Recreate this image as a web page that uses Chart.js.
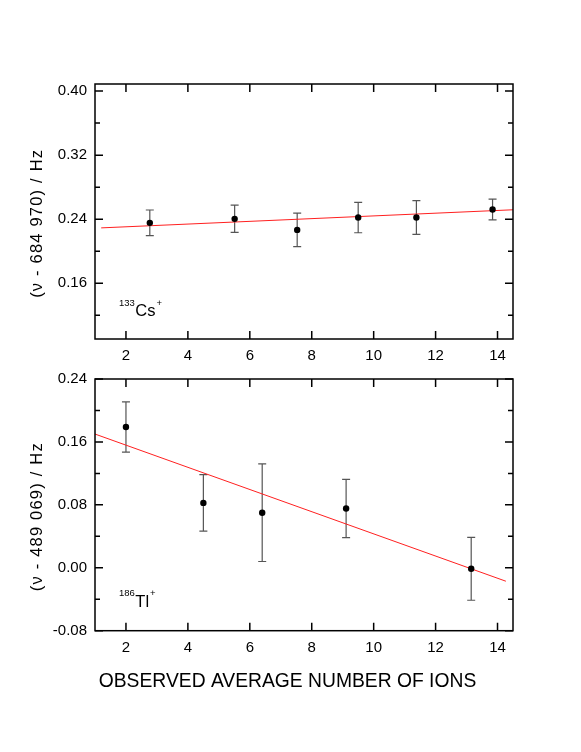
<!DOCTYPE html>
<html>
<head>
<meta charset="utf-8">
<script src="https://cdn.jsdelivr.net/npm/chart.js@4"></script>
<style>
body { margin: 0; background: #fff; }
canvas { position: absolute; left: 0; }
#cs { top: 0; }
#tl { top: 362px; }
</style>
</head>
<body>
<canvas id="cs" width="581" height="362"></canvas>
<canvas id="tl" width="581" height="390"></canvas>
<script>
// Data

const xTicks = [2, 4, 6, 8, 10, 12, 14];

// 133Cs+
const csIons = [2.77, 5.51, 7.53, 9.50, 11.38, 13.84];
const csFreq = [0.2355, 0.2405, 0.2267, 0.2421, 0.2421, 0.2521];
const csErr = [0.016, 0.017, 0.021, 0.019, 0.021, 0.013];
const csFitX = [1.2, 14.5];
const csFitY = [0.2292, 0.2518];
const csTicks = [0.12, 0.16, 0.20, 0.24, 0.28, 0.32, 0.36, 0.40];

// 186Tl+
const tlIons = [2.0, 4.5, 6.4, 9.11, 13.15];
const tlFreq = [0.179, 0.0825, 0.070, 0.0753, -0.0013];
const tlErr = [0.032, 0.036, 0.062, 0.037, 0.040];
const tlFitX = [1.0, 14.27];
const tlFitY = [0.170, -0.0171];
const tlTicks = [-0.08, -0.04, 0.00, 0.04, 0.08, 0.12, 0.16, 0.20, 0.24];

const FONT = '"Liberation Sans", Arial, sans-serif';

function isMajor(v) {
	return Math.abs(Math.round(v * 100)) % 8 === 0;
}

// Frame, inward ticks, error bars and texts

const frame = {
	id: 'frame',
	beforeDatasetsDraw(chart, args, opts) {
		const ctx = chart.ctx;
		const y = chart.scales.y;
		const meta = chart.getDatasetMeta(0);
		const vals = chart.data.datasets[0].data;
		ctx.save();
		ctx.strokeStyle = '#555';
		ctx.lineWidth = 1.2;
		meta.data.forEach(function(pt, i) {
			const top = y.getPixelForValue(vals[i].y + opts.err[i]);
			const bot = y.getPixelForValue(vals[i].y - opts.err[i]);
			ctx.beginPath();
			ctx.moveTo(pt.x, top); ctx.lineTo(pt.x, bot);
			ctx.moveTo(pt.x - 4, top); ctx.lineTo(pt.x + 4, top);
			ctx.moveTo(pt.x - 4, bot); ctx.lineTo(pt.x + 4, bot);
			ctx.stroke();
		});
		ctx.restore();
	},
	afterDraw(chart, args, opts) {
		const ctx = chart.ctx;
		const a = chart.chartArea;
		const x = chart.scales.x;
		const y = chart.scales.y;
		ctx.save();
		ctx.strokeStyle = '#000';
		ctx.lineWidth = 1.5;
		ctx.strokeRect(a.left, a.top, a.right - a.left, a.bottom - a.top);
		ctx.beginPath();
		x.ticks.forEach(function(t) {
			const px = x.getPixelForValue(t.value);
			ctx.moveTo(px, a.bottom); ctx.lineTo(px, a.bottom - 8);
			ctx.moveTo(px, a.top); ctx.lineTo(px, a.top + 8);
		});
		y.ticks.forEach(function(t) {
			const py = y.getPixelForValue(t.value);
			const len = isMajor(t.value) ? 8 : 5;
			ctx.moveTo(a.left, py); ctx.lineTo(a.left + len, py);
			ctx.moveTo(a.right, py); ctx.lineTo(a.right - len, py);
		});
		ctx.stroke();

		ctx.fillStyle = '#000';
		// y title
		ctx.save();
		ctx.translate(37.5, opts.yTitleY);
		ctx.rotate(-Math.PI / 2);
		ctx.font = '16.5px ' + FONT;
		ctx.letterSpacing = '1.2px';
		ctx.textAlign = 'center';
		ctx.textBaseline = 'middle';
		ctx.fillText(opts.yTitle, 0, 0);
		ctx.restore();

		// x title
		if (opts.xTitle) {
			ctx.font = '19.3px ' + FONT;
			ctx.textAlign = 'center';
			ctx.textBaseline = 'middle';
			ctx.fillText(opts.xTitle, 287.5, opts.xTitleY);
		}

		// ion label
		let px = opts.ionX;
		ctx.textAlign = 'left';
		ctx.textBaseline = 'alphabetic';
		ctx.font = '9.5px ' + FONT;
		ctx.fillText(opts.ion[0], px, opts.ionY - 10.5);
		px += ctx.measureText(opts.ion[0]).width + 0.5;
		ctx.font = '16.5px ' + FONT;
		ctx.fillText(opts.ion[1], px, opts.ionY);
		px += ctx.measureText(opts.ion[1]).width + 1;
		ctx.font = '9.5px ' + FONT;
		ctx.fillText(opts.ion[2], px, opts.ionY - 10.5);
		ctx.restore();
	}
};

function makePanel(id, cfg) {
	const points = cfg.ions.map(function(v, i) { return {x: v, y: cfg.freq[i]}; });
	const fit = cfg.fitX.map(function(v, i) { return {x: v, y: cfg.fitY[i]}; });

	return new Chart(id, {
		type: 'scatter',
		plugins: [frame],
		data: {
			datasets: [{
				data: points,
				backgroundColor: '#000',
				borderWidth: 0,
				pointRadius: 3.2
			},
			{
				data: fit,
				showLine: true,
				borderColor: '#ff2020',
				borderWidth: 1,
				pointRadius: 0
			}]
		},
		options: {
			responsive: false,
			animation: false,
			devicePixelRatio: 1,
			layout: {padding: {left: 0, top: cfg.top, right: 68, bottom: 0}},
			plugins: {
				legend: {display: false},
				tooltip: {enabled: false},
				frame: cfg.frame
			},
			scales: {
				x: {
					type: 'linear',
					min: 1,
					max: 14.5,
					grid: {display: false, drawTicks: false},
					border: {display: false},
					afterBuildTicks: function(s) { s.ticks = xTicks.map(function(v) { return {value: v}; }); },
					afterFit: function(s) { s.height = cfg.xHeight; },
					ticks: {
						autoSkip: false,
						maxRotation: 0,
						padding: 8,
						color: '#000',
						font: {family: FONT, size: 15}
					}
				},
				y: {
					min: cfg.yMin,
					max: cfg.yMax,
					grid: {display: false, drawTicks: false},
					border: {display: false},
					afterBuildTicks: function(s) { s.ticks = cfg.yTicks.map(function(v) { return {value: v}; }); },
					afterFit: function(s) { s.width = 95; },
					ticks: {
						autoSkip: false,
						padding: 8,
						color: '#000',
						font: {family: FONT, size: 15},
						callback: function(v) { return isMajor(v) ? v.toFixed(2) : ''; }
					}
				}
			}
		}
	});
}

makePanel('cs', {
	ions: csIons, freq: csFreq, fitX: csFitX, fitY: csFitY,
	yTicks: csTicks, yMin: 0.0905, yMax: 0.4088,
	top: 84, xHeight: 23,
	frame: {
		err: csErr,
		yTitle: '(\u03bd - 684 970) / Hz', yTitleY: 223.3,
		ion: ['133', 'Cs', '+'], ionX: 119, ionY: 316
	}
});

makePanel('tl', {
	ions: tlIons, freq: tlFreq, fitX: tlFitX, fitY: tlFitY,
	yTicks: tlTicks, yMin: -0.08, yMax: 0.24,
	top: 13.7, xHeight: 121.3,
	frame: {
		err: tlErr,
		yTitle: '(\u03bd - 489 069) / Hz', yTitleY: 154.7,
		xTitle: 'OBSERVED AVERAGE NUMBER OF IONS', xTitleY: 319.7,
		ion: ['186', 'Tl', '+'], ionX: 119, ionY: 244.7
	}
});
</script>
</body>
</html>
